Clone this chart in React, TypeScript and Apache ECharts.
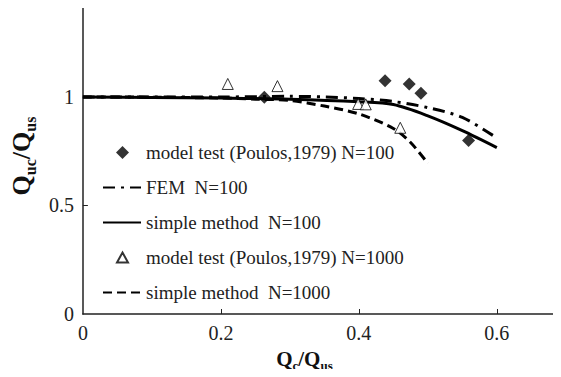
import React, { useEffect, useRef } from "react";
import * as echarts from "echarts";

const diamondX = [0.263, 0.438, 0.473, 0.49, 0.559];
const diamondY = [0.999, 1.075, 1.06, 1.017, 0.799];

const triangleX = [0.21, 0.282, 0.399, 0.41, 0.46];
const triangleY = [1.06, 1.05, 0.968, 0.966, 0.858];

const femX = [0, 0.1, 0.2, 0.3, 0.35, 0.4, 0.45, 0.5, 0.55, 0.6];
const femY = [1.0, 1.0, 1.0, 1.003, 1.0, 0.993, 0.979, 0.951, 0.906, 0.811];

const simple100X = [0, 0.1, 0.2, 0.3, 0.4, 0.45, 0.5, 0.55, 0.6];
const simple100Y = [1.0, 0.998, 0.995, 0.99, 0.978, 0.965, 0.913, 0.845, 0.767];

const simple1000X = [0, 0.1, 0.2, 0.25, 0.3, 0.35, 0.4, 0.45, 0.475, 0.5];
const simple1000Y = [1.0, 0.999, 0.995, 0.99, 0.984, 0.958, 0.922, 0.855, 0.79, 0.694];

const xTicks = [0, 0.2, 0.4, 0.6];
const yTicks = [0, 0.5, 1];

const legendNames = [
  "model test (Poulos,1979) N=100",
  "FEM  N=100",
  "simple method  N=100",
  "model test (Poulos,1979) N=1000",
  "simple method  N=1000",
];

const zip = (xs: number[], ys: number[]) => xs.map((x, i) => [x, ys[i]]);

const FONT = "Liberation Serif";

export default function App() {
  const ref = useRef<HTMLDivElement>(null);
  useEffect(() => {
    if (!ref.current) return;
    const chart = echarts.init(ref.current, undefined, { renderer: "svg" });
    const richX = {
      q: { fontFamily: FONT, fontWeight: "bold", fontSize: 21, color: "#111" },
      s: { fontFamily: FONT, fontWeight: "bold", fontSize: 13, color: "#111", verticalAlign: "bottom", padding: [0, 0, -3, 0] },
    };
    const richY = {
      q: { fontFamily: FONT, fontWeight: "bold", fontSize: 26, color: "#111" },
      s: { fontFamily: FONT, fontWeight: "bold", fontSize: 16, color: "#111", verticalAlign: "bottom", padding: [0, 0, -4, 0] },
    };
    const tickRich = { t: { fontFamily: FONT, fontSize: 20, color: "#222" } };
    chart.setOption({
      animation: false,
      backgroundColor: "#fff",
      textStyle: { fontFamily: FONT },
      grid: { left: 81, right: 0, top: 8, bottom: 63, containLabel: false },
      legend: {
        orient: "vertical",
        left: 97,
        top: 138,
        itemWidth: 38,
        itemHeight: 16,
        itemGap: 16,
        formatter: (name: string) => `{t|${name}}`,
        textStyle: {
          fontFamily: FONT,
          fontSize: 19,
          color: "#222",
          rich: { t: { fontFamily: FONT, fontSize: 19, color: "#222" } },
        },
        data: [
          { name: legendNames[0], icon: "path://M0,0M38,16M19.5,1.5L26,8L19.5,14.5L13,8Z" },
          { name: legendNames[1], itemStyle: { opacity: 0 } },
          { name: legendNames[2], itemStyle: { opacity: 0 } },
          { name: legendNames[3], icon: "path://M0,0M38,16M19.5,3L25,13L14,13Z" },
          { name: legendNames[4], itemStyle: { opacity: 0 } },
        ],
      },
      xAxis: {
        type: "value",
        min: 0,
        max: 0.693,
        interval: 0.2,
        splitLine: { show: false },
        axisLine: { lineStyle: { color: "#222", width: 1.5 } },
        axisTick: { inside: true, length: 5, customValues: [0.2, 0.4, 0.6], lineStyle: { color: "#222" } },
        axisLabel: {
          customValues: xTicks,
          margin: 9,
          fontFamily: FONT,
          fontSize: 20,
          rich: tickRich,
          formatter: (v: number) => `{t|${v}}`,
        },
        name: "{q|Q}{s|c}{q|/Q}{s|us}",
        nameLocation: "middle",
        nameGap: 34,
        nameTextStyle: { fontFamily: FONT, rich: richX, padding: [0, 35, 0, 0] },
      },
      yAxis: {
        type: "value",
        min: 0,
        max: 1.41,
        interval: 0.5,
        splitLine: { show: false },
        axisLine: { lineStyle: { color: "#222", width: 1.5 } },
        axisTick: { inside: true, length: 5, customValues: [0.5, 1], lineStyle: { color: "#222" } },
        axisLabel: {
          customValues: yTicks,
          margin: 9,
          fontFamily: FONT,
          fontSize: 20,
          rich: tickRich,
          formatter: (v: number) => `{t|${v}}`,
        },
        name: "{q|Q}{s|uc}{q|/Q}{s|us}",
        nameLocation: "middle",
        nameGap: 46,
        nameTextStyle: { fontFamily: FONT, rich: richY, padding: [0, 0, 0, 10] },
      },
      series: [
        {
          name: legendNames[0],
          type: "scatter",
          symbol: "diamond",
          symbolSize: 13,
          itemStyle: { color: "#000" },
          data: zip(diamondX, diamondY),
          z: 5,
        },
        {
          name: legendNames[1],
          type: "line",
          symbol: "none",
          smooth: 0.3,
          lineStyle: { color: "#000", width: 3, type: [12, 6, 3, 6] },
          itemStyle: { color: "#000" },
          data: zip(femX, femY),
        },
        {
          name: legendNames[2],
          type: "line",
          symbol: "none",
          smooth: 0.3,
          lineStyle: { color: "#000", width: 3 },
          itemStyle: { color: "#000" },
          data: zip(simple100X, simple100Y),
        },
        {
          name: legendNames[3],
          type: "scatter",
          symbol: "triangle",
          symbolSize: 11,
          itemStyle: { color: "#fff", borderColor: "#000", borderWidth: 1 },
          data: zip(triangleX, triangleY),
          z: 5,
        },
        {
          name: legendNames[4],
          type: "line",
          symbol: "none",
          smooth: 0.3,
          lineStyle: { color: "#000", width: 3, type: [9, 5] },
          itemStyle: { color: "#000" },
          data: zip(simple1000X, simple1000Y),
        },
      ],
    });
    return () => chart.dispose();
  }, []);
  return <div ref={ref} style={{ width: 561, height: 377, margin: -8 }} />;
}
